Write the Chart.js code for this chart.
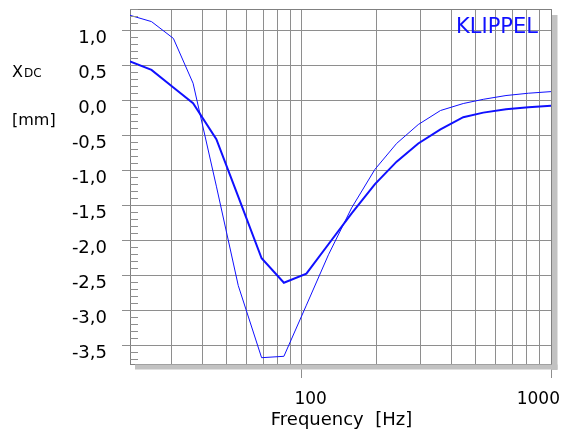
<!DOCTYPE html>
<html>
<head>
<meta charset="utf-8">
<title>XDC vs frequency</title>
<script src="https://cdn.jsdelivr.net/npm/chart.js@4.4.1/dist/chart.umd.min.js"></script>
<style>
  html, body { margin: 0; padding: 0; background: #ffffff; }
  #wrap { width: 569px; height: 432px; }
</style>
</head>
<body>
<div id="wrap"><canvas id="xdcChart" width="569" height="432"></canvas></div>
<script>
// values
const frequencies = [20.5, 25, 30.6, 36.7, 45.5, 55.7, 69.1, 84.9, 104.5, 128.1, 158.7, 196.8, 240.4, 293.6, 360.4, 444.8, 535, 660, 812, 1000];
const xdcThin  = [1.21, 1.12, 0.88, 0.24, -1.23, -2.65, -3.68, -3.66, -2.93, -2.21, -1.54, -0.99, -0.62, -0.35, -0.15, -0.05, 0.01, 0.064, 0.097, 0.12];
const xdcThick = [0.55, 0.43, 0.18, -0.045, -0.56, -1.38, -2.26, -2.61, -2.48, -2.06, -1.62, -1.2, -0.88, -0.62, -0.42, -0.245, -0.18, -0.133, -0.104, -0.083];

const yTickValues = [-3.5, -3.0, -2.5, -2.0, -1.5, -1.0, -0.5, 0.0, 0.5, 1.0];
const xGridValues = [30, 40, 50, 60, 70, 80, 90, 100, 200, 300, 400, 500, 600, 700, 800, 900, 1000];
const xLabelValues = [100, 1000];
const xTitle = 'Frequency  [Hz]';
const brandText = 'KLIPPEL';

const lineBlue = '#1010ff';
const gridGray = '#8e8e8e';
const font = 'DejaVu Sans';

// small ticks every 0.1 mm on the inside of the left axis
const yMinorTicks = [];
for (let i = -37; i <= 13; i++) yMinorTicks.push(i / 10);

const toPoints = (ys) => frequencies.map((f, i) => ({ x: f, y: ys[i] }));

const framePlugin = {
  id: 'frame',
  afterDraw(chart) {
    const { ctx, chartArea: a, scales } = chart;
    const yScale = scales.y;
    const xScale = scales.x;
    ctx.save();

    // grey drop shadow right and below the plot
    ctx.fillStyle = '#c2c2c2';
    ctx.fillRect(a.right + 0.5, a.top + 6, 6, a.bottom - a.top);
    ctx.fillRect(a.left + 5, a.bottom + 0.5, a.right - a.left + 1.5, 5);

    // top and right border
    ctx.strokeStyle = '#808080';
    ctx.lineWidth = 1;
    ctx.beginPath();
    ctx.moveTo(Math.round(a.left) + 0.5, Math.round(a.top) + 0.5);
    ctx.lineTo(Math.round(a.right) + 0.5, Math.round(a.top) + 0.5);
    ctx.lineTo(Math.round(a.right) + 0.5, Math.round(a.bottom) + 0.5);
    ctx.stroke();

    // minor ticks
    ctx.strokeStyle = gridGray;
    ctx.beginPath();
    yMinorTicks.forEach(v => {
      const y = Math.round(yScale.getPixelForValue(v)) + 0.5;
      ctx.moveTo(a.left, y);
      ctx.lineTo(a.left + 8, y);
    });
    ctx.stroke();

    // x tick labels
    ctx.fillStyle = '#000000';
    ctx.font = '17px "' + font + '"';
    ctx.textAlign = 'center';
    ctx.textBaseline = 'alphabetic';
    xLabelValues.forEach(v => {
      const txt = String(v);
      const w = ctx.measureText(txt).width;
      const px = Math.min(xScale.getPixelForValue(v) + 9, chart.width - 9 - w / 2);
      ctx.fillText(txt, px, 404);
    });

    // x title
    ctx.font = '18px "' + font + '"';
    ctx.fillText(xTitle, (a.left + a.right) / 2 + 1, 425);

    // y title: X with DC subscript, unit below
    ctx.textAlign = 'left';
    ctx.font = '16px "' + font + '"';
    ctx.fillText('X', 12, 77);
    const xw = ctx.measureText('X').width;
    ctx.font = '12px "' + font + '"';
    ctx.fillText('DC', 12 + xw + 1, 77);
    ctx.font = '16px "' + font + '"';
    ctx.fillText('[mm]', 12, 125);

    // brand
    ctx.fillStyle = lineBlue;
    ctx.font = '21px "' + font + '"';
    ctx.fillText(brandText, 456, 33);

    ctx.restore();
  }
};

const ctx = document.getElementById('xdcChart');
new Chart(ctx, {
  type: 'line',
  data: {
    datasets: [
      {
        label: 'thick',
        data: toPoints(xdcThick),
        borderColor: lineBlue,
        borderWidth: 2,
        pointRadius: 0,
        tension: 0,
        fill: false
      },
      {
        label: 'thin',
        data: toPoints(xdcThin),
        borderColor: lineBlue,
        borderWidth: 1,
        pointRadius: 0,
        tension: 0,
        fill: false
      }
    ]
  },
  options: {
    responsive: false,
    animation: false,
    layout: { padding: { top: 9, right: 18, left: 0, bottom: 0 } },
    plugins: {
      legend: { display: false },
      tooltip: { enabled: false }
    },
    scales: {
      x: {
        type: 'logarithmic',
        position: 'bottom',
        min: 20.5,
        max: 1000,
        afterBuildTicks: (scale) => { scale.ticks = xGridValues.map(v => ({ value: v })); },
        afterFit: (scale) => {
          scale.height = 68;
          scale.paddingLeft = 0;
          scale.paddingRight = 0;
        },
        ticks: { display: false },
        grid: {
          color: gridGray,
          lineWidth: 1,
          tickLength: 14,
          tickColor: (c) => (c.tick && xLabelValues.includes(c.tick.value)) ? gridGray : 'rgba(0,0,0,0)'
        },
        border: { display: true, color: '#808080', width: 1 }
      },
      y: {
        min: -3.77,
        max: 1.30,
        afterBuildTicks: (scale) => { scale.ticks = yTickValues.map(v => ({ value: v })); },
        afterFit: (scale) => {
          scale.width = 130;
          // labels sit below their grid line, so no extra room is needed above
          scale.paddingTop = 0;
          scale.paddingBottom = 0;
        },
        ticks: {
          color: '#000000',
          font: { family: font, size: 18 },
          padding: 15,
          labelOffset: 8,
          callback: (v) => Number(v).toFixed(1).replace('.', ',')
        },
        grid: {
          color: gridGray,
          lineWidth: 1,
          tickLength: 8,
          tickColor: gridGray
        },
        border: { display: true, color: '#808080', width: 1 }
      }
    }
  },
  plugins: [framePlugin]
});
</script>
</body>
</html>
